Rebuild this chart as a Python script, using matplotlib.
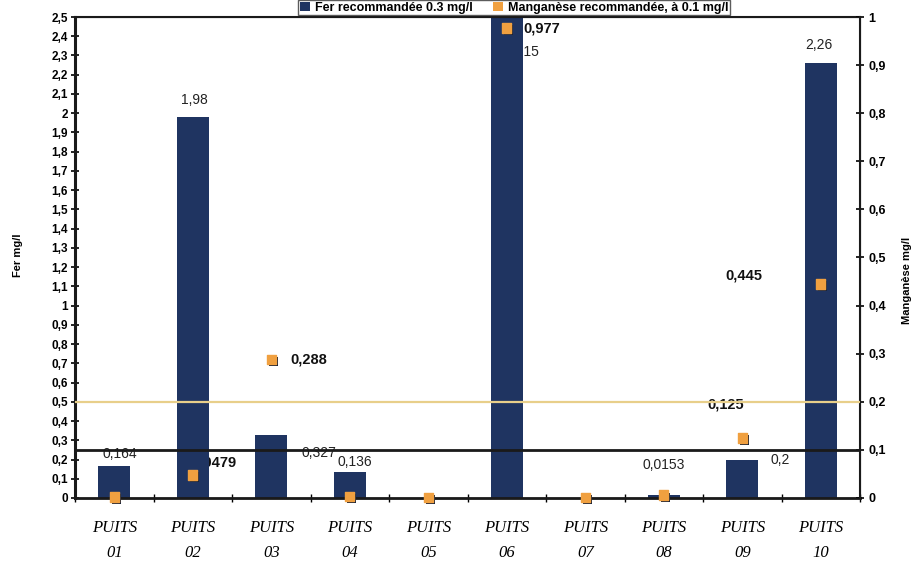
import numpy as np
import matplotlib
matplotlib.use("Agg")
import matplotlib.pyplot as plt
import matplotlib.patheffects as pe
from matplotlib.patches import Patch
from matplotlib.ticker import FuncFormatter, MultipleLocator, FixedLocator

plt.rcParams["font.family"] = ["Liberation Sans", "DejaVu Sans"]

# ── data ─────────────────────────────────────────────────────────────
puits = ["01", "02", "03", "04", "05", "06", "07", "08", "09", "10"]
fer = [0.164, 1.98, 0.327, 0.136, 0.0, 4.15, 0.0, 0.0153, 0.2, 2.26]
fer_txt = ["0,164", "1,98", "0,327", "0,136", "", "4,15", "", "0,0153", "0,2", "2,26"]
mn = [0.002, 0.0479, 0.288, 0.003, 0.001, 0.977, 0.001, 0.006, 0.125, 0.445]
mn_txt = ["", "0,0479", "0,288", "", "", "0,977", "", "", "0,125", "0,445"]
mn_limit_black = 0.1
mn_limit_yellow = 0.2

# label offsets in points (dx, dy) – placement only
fer_off = [(4, 9), (1, 12), (34, -13), (4, 7), (0, 0), (14, -25), (0, 0),
           (0, 22), (27, 0), (-1, 13)]
mn_off = [(0, 0), (15, 9), (27, 0), (0, 0), (0, 0), (25, 0), (0, 0),
          (0, 0), (-12, 24), (-55, 6)]

NAVY = "#1f3461"
ORANGE = "#f0a040"
YELLOW = "#e8cf8a"

fig = plt.figure(figsize=(9.22, 5.63), dpi=100)
ax = fig.add_axes([75 / 922, 65 / 563, 785 / 922, 481 / 563])
ax2 = ax.twinx()

x = np.arange(len(puits))
ax.bar(x, fer, width=0.41, color=NAVY, zorder=2)
ax.set_xlim(-0.5, len(puits) - 0.5)
ax.set_ylim(0, 2.5)
ax2.set_ylim(0, 1)

# labels drawn under the bars
for i in range(len(puits)):
    if fer_txt[i]:
        yv = min(fer[i], 2.5)
        ax.annotate(fer_txt[i], (i, yv), xytext=fer_off[i], textcoords="offset points",
                    ha="center", va="center", fontsize=10, color="#222222", zorder=1)
    if mn_txt[i]:
        ax.annotate(mn_txt[i], (i, mn[i]), xycoords=ax2.transData,
                    xytext=mn_off[i], textcoords="offset points",
                    ha="center", va="center", fontsize=10.5, fontweight="bold",
                    color="#111111", zorder=1)

# reference lines
ax2.axhline(mn_limit_yellow, color=YELLOW, lw=1.6, zorder=3)
ax2.axhline(mn_limit_black, color="#1a1a1a", lw=2, zorder=3)

# manganese points
ax2.scatter(x, mn, marker="s", s=45, color=ORANGE, zorder=5, clip_on=False,
            path_effects=[pe.SimplePatchShadow(offset=(1.5, -1.5), shadow_rgbFace="#1c2438",
                                               alpha=1.0), pe.Normal()])

# axes styling
fmt = FuncFormatter(lambda v, p: ("%g" % round(v, 2)).replace(".", ","))
ax.yaxis.set_major_locator(MultipleLocator(0.1))
ax.yaxis.set_major_formatter(fmt)
ax2.yaxis.set_major_locator(MultipleLocator(0.1))
ax2.yaxis.set_major_formatter(fmt)
ax.tick_params(axis="y", direction="inout", length=6, width=1.2, labelsize=8.5, pad=2)
ax2.tick_params(axis="y", direction="inout", length=6, width=1.2, labelsize=9, pad=3)
for lab in ax.get_yticklabels() + ax2.get_yticklabels():
    lab.set_fontweight("bold")

ax.xaxis.set_major_locator(FixedLocator(np.arange(-0.5, len(puits), 1.0)))
ax.xaxis.set_minor_locator(FixedLocator(x))
ax.set_xticklabels([])
ax.set_xticklabels([f"PUITS\n{p}" for p in puits], minor=True)
ax.tick_params(axis="x", which="major", direction="inout", length=6, width=1)
ax.tick_params(axis="x", which="minor", length=0, pad=16)
for lab in ax.get_xticklabels(minor=True):
    lab.set_fontfamily("Liberation Serif")
    lab.set_fontstyle("italic")
    lab.set_fontsize(12)
    lab.set_linespacing(1.7)

for a in (ax, ax2):
    for s in a.spines.values():
        s.set_color("#1a1a1a")
ax.spines["left"].set_linewidth(2.2)
ax.spines["bottom"].set_linewidth(2)
ax.spines["top"].set_linewidth(1.5)
ax2.spines["right"].set_linewidth(1.5)

fig.text(18 / 922, 1 - 255 / 563, "Fer mg/l", rotation=90, ha="center", va="center",
         fontsize=8, fontweight="bold")
fig.text(907 / 922, 1 - 280 / 563, "Manganèse mg/l", rotation=90, ha="center", va="center",
         fontsize=8, fontweight="bold")

handles = [Patch(facecolor=NAVY, edgecolor="none"), Patch(facecolor=ORANGE, edgecolor="none")]
leg = fig.legend(handles, ["Fer recommandée 0.3 mg/l", "Manganèse recommandée, à 0.1 mg/l"],
                 loc="upper center", bbox_to_anchor=(514 / 922, 1.0), ncol=2,
                 prop={"weight": "bold", "size": 9}, frameon=True,
                 fancybox=False, edgecolor="#333333", handlelength=0.8, handleheight=0.7,
                 columnspacing=1.6, handletextpad=0.4, borderpad=0.12,
                 borderaxespad=0.0)

fig.savefig("out.png", dpi=100)
